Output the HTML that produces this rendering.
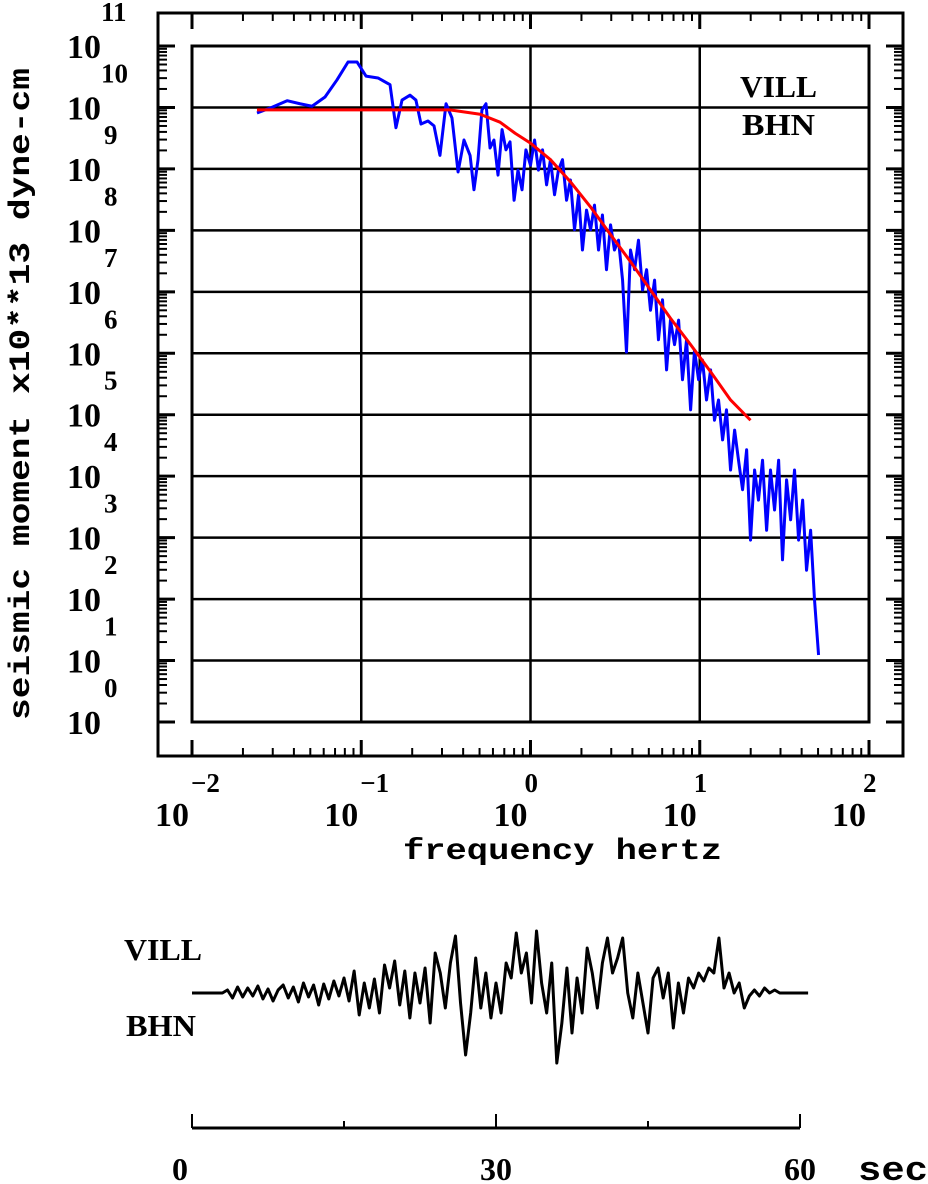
<!DOCTYPE html>
<html><head><meta charset="utf-8"><style>
html,body{margin:0;padding:0;background:#fff}
svg{display:block}
text{font-family:"Liberation Mono",monospace;font-weight:bold;fill:#000}
.sf{font-family:"Liberation Serif",serif}
</style></head><body>
<svg id="chart" width="928" height="1184" viewBox="0 0 928 1184" xmlns="http://www.w3.org/2000/svg">
<g id="frame"></g>
<g id="grid"></g>
<g id="ticks"></g>
<g id="labels"></g>
<g id="series"></g>
<text class="sf" x="740" y="97" font-size="31" textLength="77" lengthAdjust="spacingAndGlyphs">VILL</text>
<text class="sf" x="742" y="135" font-size="31" textLength="73" lengthAdjust="spacingAndGlyphs">BHN</text>
<text x="403" y="859" font-size="30" textLength="319" lengthAdjust="spacingAndGlyphs">frequency  hertz</text>
<text transform="translate(29,720) rotate(-90)" font-size="30" textLength="652" lengthAdjust="spacingAndGlyphs">seismic moment x10**13 dyne-cm</text>
<text class="sf" x="124" y="960" font-size="31" textLength="78" lengthAdjust="spacingAndGlyphs">VILL</text>
<text class="sf" x="126" y="1036" font-size="31" textLength="70" lengthAdjust="spacingAndGlyphs">BHN</text>
<g id="trace"></g>
</svg>
<script>
const yDecades=[0,1,2,3,4,5,6,7,8,9,10,11];
const xDecades=[-2,-1,0,1,2];
const specLogF=[-1.616,-1.539,-1.438,-1.362,-1.291,-1.214,-1.143,-1.078,-1.025,-0.972,-0.901,-0.830,-0.795,-0.759,-0.712,-0.677,-0.647,-0.606,-0.570,-0.535,-0.499,-0.464,-0.428,-0.393,-0.357,-0.334,-0.310,-0.287,-0.263,-0.239,-0.216,-0.192,-0.168,-0.145,-0.121,-0.097,-0.074,-0.050,-0.027,
0,0.024,0.047,0.071,0.095,0.118,0.142,0.165,0.189,0.213,0.236,0.260,0.284,0.307,0.331,0.355,0.378,0.402,0.425,0.449,0.473,0.496,0.520,0.544,0.567,0.591,0.615,0.638,0.662,0.686,0.709,0.733,0.756,0.780,0.804,0.827,0.851,0.875,0.898,0.922,0.946,0.969,0.993,1.016,1.040,1.064,1.087,1.111,1.135,1.158,1.182,1.206,1.229,1.253,1.277,1.300,1.324,1.347,1.371,1.395,1.418,1.442,1.466,1.489,1.513,1.537,1.560,1.584,1.608,1.631,1.655,1.678,1.702];
const specLogM=[9.91,9.99,10.11,10.06,10.02,10.17,10.45,10.74,10.74,10.51,10.48,10.37,9.67,10.12,10.20,10.12,9.73,9.78,9.70,9.22,10.06,9.83,8.95,9.47,9.22,8.66,9.15,9.96,10.06,9.34,9.47,8.90,9.64,9.31,9.44,8.49,8.98,8.66,9.31,
9.06,9.47,8.98,9.31,8.74,9.15,8.58,8.98,9.15,8.49,8.82,8.01,8.58,7.68,8.33,8.01,8.41,7.68,8.25,7.36,8.09,7.68,7.84,7.19,6.02,7.68,7.36,7.84,7.03,7.36,6.70,7.19,6.22,6.87,5.73,6.54,6.14,6.54,5.57,6.22,5.08,6.05,5.57,5.89,5.24,5.73,4.91,5.24,4.59,5.08,4.10,4.75,4.26,3.78,4.43,2.96,4.10,3.61,4.26,3.12,4.10,3.45,4.26,2.64,3.94,3.29,4.10,2.96,3.61,2.47,3.12,1.99,1.09];
const fitLogF=[-1.616,-0.476,-0.298,-0.180,-0.091,0,0.118,0.236,0.355,0.473,0.591,0.709,0.827,0.946,1.005,1.064,1.182,1.300];
const fitLogM=[9.96,9.96,9.89,9.76,9.58,9.42,9.15,8.79,8.38,7.93,7.49,7.03,6.57,6.14,5.92,5.70,5.24,4.91];
const traceT=[0,3,3.5,4,4.5,5,5.5,6,6.5,7,7.5,8,8.5,9,9.5,10,10.5,11,11.5,12,12.5,13,13.5,14,14.5,15,15.5,16,16.5,17,17.5,18,18.5,19,19.5,20,20.5,21,21.5,22,22.5,23,23.5,24,24.5,25,25.5,26,26.5,27,27.5,28,28.5,29,29.5,30,30.5,31,31.5,32,32.5,33,33.5,34,34.5,35,35.5,36,36.5,37,37.5,38,38.5,39,39.5,40,40.5,41,41.5,42,42.5,43,43.5,44,44.5,45,45.5,46,46.5,47,47.5,48,48.5,49,49.5,50,50.5,51,51.5,52,52.5,53,53.5,54,54.5,55,55.5,56,56.5,57,57.5,58,60.8];
const traceA=[0,0,3,-5,6,-4,5,-3,7,-6,4,-8,3,8,-5,6,-9,10,-4,8,-12,9,-6,12,-3,15,-8,22,-22,10,-15,14,-20,28,5,32,-12,22,-25,20,-10,25,-30,40,20,-15,30,57,-10,-62,-20,35,-15,20,-25,10,-20,30,15,60,20,40,-10,62,10,-20,30,-70,-30,25,-40,15,-20,45,20,-15,30,55,20,35,55,0,-25,20,-10,-40,15,25,-5,20,-35,10,-20,15,5,20,12,25,20,55,5,20,0,10,-15,-3,3,-3,5,0,3,0,0];
const timeTicks=[0,15,30,45,60];
const timeLabels=["0","","30","","60"];

const NS="http://www.w3.org/2000/svg";
const X0=192,X1=869,Y0=722,Y1=46;
const xs=v=>X0+(v+2)*(X1-X0)/4;
const ys=v=>Y0-v*(Y0-Y1)/11;
const ts=t=>192+t*(800-192)/60;
const as=a=>993-a;
function mk(tag,attrs,parent){const e=document.createElementNS(NS,tag);for(const k in attrs)e.setAttribute(k,attrs[k]);document.getElementById(parent).appendChild(e);return e;}

let e;
e=mk('rect',{x:158,y:13,width:745,height:743,fill:'none',stroke:'#000','stroke-width':3},'frame');


e=mk('rect',{x:X0,y:Y1,width:X1-X0,height:Y0-Y1,fill:'none',stroke:'#000','stroke-width':3},'frame');



yDecades.forEach(d=>{
  const y=ys(d);
  e=mk('line',{x1:X0,x2:X1,y1:y,y2:y,stroke:'#000','stroke-width':2.5},'grid');
  
  
  e=mk('line',{x1:158,x2:175,y1:y,y2:y,stroke:'#000','stroke-width':3},'ticks');
  
  
  e=mk('line',{x1:886,x2:903,y1:y,y2:y,stroke:'#000','stroke-width':3},'ticks');
  
  
  if(d<11){for(let m=2;m<10;m++){const yy=ys(d+Math.log10(m));
    e=mk('line',{x1:158,x2:167,y1:yy,y2:yy,stroke:'#000','stroke-width':2},'ticks');
    
    
    e=mk('line',{x1:894,x2:903,y1:yy,y2:yy,stroke:'#000','stroke-width':2},'ticks');
    
    }}
  e=mk('text',{x:67,y:y+12,'font-size':34,class:'sf'},'labels');
  e.textContent='10';
  
  
  e=mk('text',{x:d>=10?101:104,y:y-25,'font-size':27,class:'sf'},'labels');
  e.textContent=String(d);
  
  
});
xDecades.forEach(d=>{
  const x=xs(d);
  e=mk('line',{x1:x,x2:x,y1:Y1,y2:Y0,stroke:'#000','stroke-width':2.5},'grid');
  
  
  e=mk('line',{x1:x,x2:x,y1:740,y2:756,stroke:'#000','stroke-width':3},'ticks');
  
  
  e=mk('line',{x1:x,x2:x,y1:13,y2:29,stroke:'#000','stroke-width':3},'ticks');
  
  
  if(d<2){for(let m=2;m<10;m++){const xx=xs(d+Math.log10(m));
    e=mk('line',{x1:xx,x2:xx,y1:748,y2:756,stroke:'#000','stroke-width':2},'ticks');
    
    
    e=mk('line',{x1:xx,x2:xx,y1:13,y2:21,stroke:'#000','stroke-width':2},'ticks');
    
    }}
  e=mk('text',{x:x-37,y:826,'font-size':34,class:'sf'},'labels');
  e.textContent='10';
  
  
  const ex=d<0?String.fromCharCode(8722)+Math.abs(d):String(d);
  e=mk('text',{x:d<0?x-1:x-6,y:792,'font-size':27,class:'sf'},'labels');
  e.textContent=ex;
  
  
});

e=mk('polyline',{points:specLogF.map((f,i)=>xs(f)+','+ys(specLogM[i])).join(' '),fill:'none',stroke:'#0000ff','stroke-width':3,'stroke-linejoin':'round'},'series');


e=mk('polyline',{points:fitLogF.map((f,i)=>xs(f)+','+ys(fitLogM[i])).join(' '),fill:'none',stroke:'#ff0000','stroke-width':3,'stroke-linejoin':'round'},'series');



e=mk('polyline',{points:traceT.map((t,i)=>ts(t)+','+as(traceA[i])).join(' '),fill:'none',stroke:'#000','stroke-width':3,'stroke-linejoin':'round'},'trace');


e=mk('line',{x1:ts(0),x2:ts(60),y1:1128,y2:1128,stroke:'#000','stroke-width':3},'trace');


timeTicks.forEach((t,i)=>{
  const major=timeLabels[i]!=='';
  e=mk('line',{x1:ts(t),x2:ts(t),y1:major?1114:1121,y2:1128,stroke:'#000','stroke-width':2},'trace');
  
  
  if(major){e=mk('text',{x:ts(t)-(t===0?12:0),y:1180,'font-size':32,'text-anchor':'middle',class:'sf'},'trace');
    e.textContent=timeLabels[i];
    
    }
});
e=mk('text',{x:858,y:1180,'font-size':34,textLength:70,lengthAdjust:'spacingAndGlyphs'},'trace');
e.textContent='sec';


</script>
</body></html>
